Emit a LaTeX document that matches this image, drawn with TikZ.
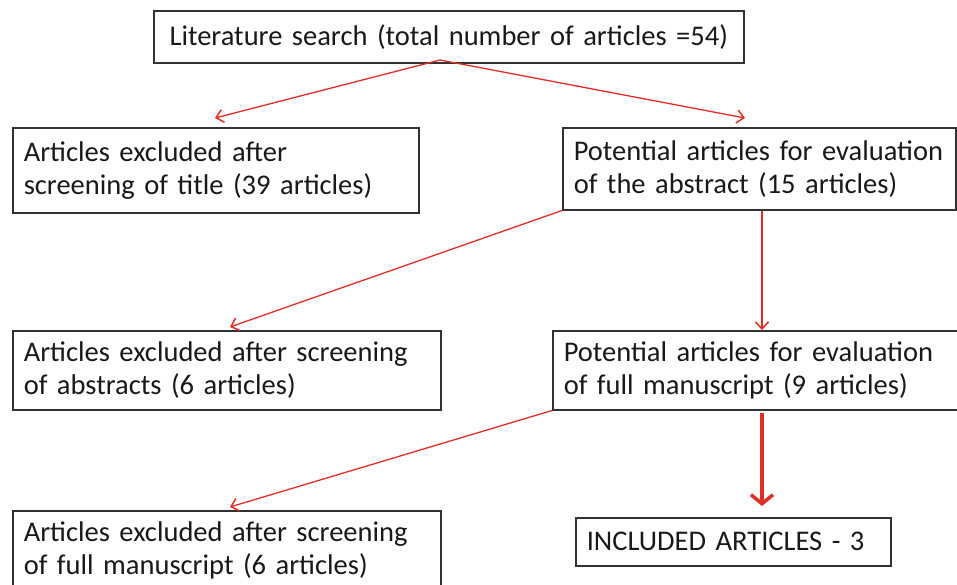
\documentclass[tikz,border=0pt]{standalone}
\usepackage{fontspec}
\setmainfont{Carlito}
\usetikzlibrary{arrows.meta}
\definecolor{arrowred}{RGB}{225,45,40}
\definecolor{boxgray}{RGB}{50,50,50}
\tikzset{
  box/.style={draw=boxgray, line width=1.5pt, anchor=north west, align=left,
    inner xsep=11pt, inner ysep=0pt, font=\fontsize{28.5}{33}\selectfont, text=black!90},
  flow/.style={draw=arrowred, line width=1.3pt, -{Straight Barb[length=7pt,width=13pt,line width=1.5pt]}},
  thickflow/.style={draw=arrowred, line width=3.5pt, -{Straight Barb[length=9pt,width=22pt,line width=3.5pt]}}
}
\begin{document}
\begin{tikzpicture}[x=1pt,y=-1pt]
\useasboundingbox (0,0) rectangle (957,584);
\clip (0,0) rectangle (957,584);
\fill[white] (0,0) rectangle (957,584);
\node[box, minimum width=590pt, minimum height=52pt, align=center, text width=568pt] (lit) at (153,10) {Literature search (total number of articles =54)};
\node[box, minimum height=85pt, text width=384pt] (exT) at (12,127) {Articles excluded after\\screening of title (39 articles)};
\node[box, minimum height=82pt, text width=371pt] (potA) at (562,127) {Potential articles for evaluation\\of the abstract (15 articles)};
\node[box, minimum height=79pt, text width=406pt] (exA) at (12,330) {Articles excluded after screening\\of abstracts (6 articles)};
\node[box, minimum height=79pt, text width=400pt] (potF) at (552,330) {Potential articles for evaluation\\of full manuscript (9 articles)};
\node[box, minimum height=79pt, text width=406pt] (exF) at (12,510) {Articles excluded after screening\\of full manuscript (6 articles)};
\node[box, minimum width=315pt, minimum height=48pt, text width=293pt] (inc) at (575,517) {INCLUDED ARTICLES - 3};
\coordinate (litB) at (440,60);
\draw[flow] (litB) -- (215,118);
\draw[flow] (litB) -- (745,118);
\draw[flow] (potA.south west) -- (230,327);
\draw[flow] (potA.south west -| 762,0) -- (exA.north -| 762,0) ;
\draw[flow] (potF.south west) -- (230,507);
\draw[thickflow] (762,413) -- (762,506);
\end{tikzpicture}
\end{document}
